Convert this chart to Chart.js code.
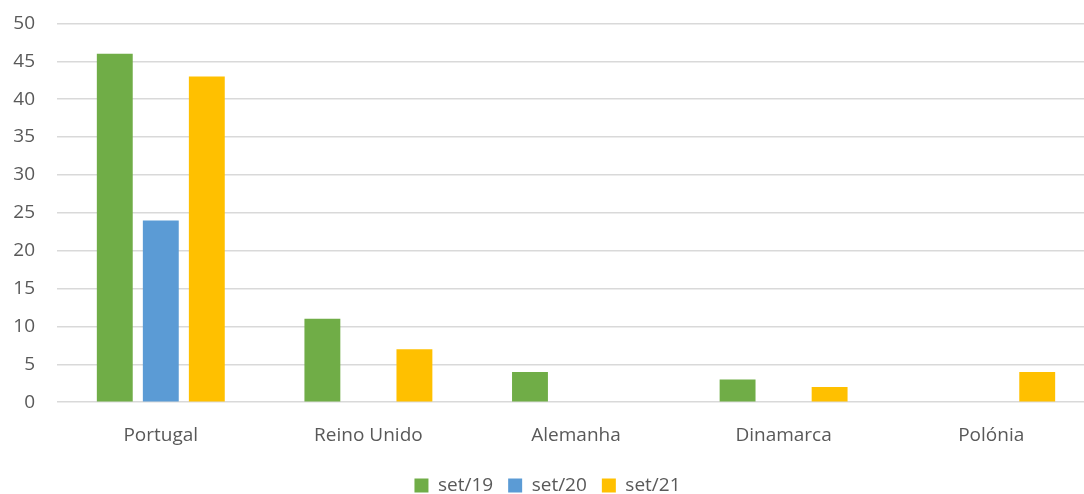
<!DOCTYPE html>
<html>
<head>
<meta charset="utf-8">
<script src="https://cdn.jsdelivr.net/npm/chart.js@4"></script>
<style>
  html, body { margin: 0; padding: 0; background: #fff; overflow: hidden; }
  #wrap { width: 1126px; height: 515px; margin-top: -10px; }
</style>
</head>
<body>
<div id="wrap"><canvas id="myChart"></canvas></div>
<script>
const categories = ["Portugal", "Reino Unido", "Alemanha", "Dinamarca", "Polónia"];
const seriesNames = ["set/19", "set/20", "set/21"];
const set19 = [46, 11, 4, 3, 0];
const set20 = [24, 0, 0, 0, 0];
const set21 = [43, 7, 0, 2, 4];
const colors = ["#70AD47", "#5B9BD5", "#FFC000"];

const FONT = "'Open Sans', 'Noto Sans', sans-serif";
const TEXT = "#595959";

let ctx = document.getElementById("myChart").getContext("2d");

let barChart = new Chart(ctx, {
  type: "bar",
  data: {
    labels: categories,
    datasets: [set19, set20, set21].map((vals, i) => ({
      label: seriesNames[i],
      data: vals,
      backgroundColor: colors[i],
      borderWidth: 0,
      categoryPercentage: 0.665,
      barPercentage: 0.78,
    })),
  },
  options: {
    responsive: true,
    maintainAspectRatio: false,
    animation: false,
    layout: { padding: { top: 4, right: 31, left: 0, bottom: 0 } },
    scales: {
      x: {
        grid: { display: false },
        border: { display: false },
        ticks: { color: TEXT, font: { family: FONT, size: 19 }, padding: 14 },
      },
      y: {
        min: 0,
        max: 50,
        afterFit: (axis) => { axis.width = 57; },
        ticks: { stepSize: 5, color: TEXT, font: { family: FONT, size: 19 }, padding: 22 },
        grid: { color: "#D9D9D9", lineWidth: 1.5, drawTicks: false },
        border: { display: false },
      },
    },
    plugins: {
      legend: {
        position: "bottom",
        labels: {
          boxWidth: 14,
          boxHeight: 14,
          padding: 15,
          color: TEXT,
          font: { family: FONT, size: 19 },
        },
      },
      tooltip: { enabled: false },
    },
  },
});
</script>
</body>
</html>
